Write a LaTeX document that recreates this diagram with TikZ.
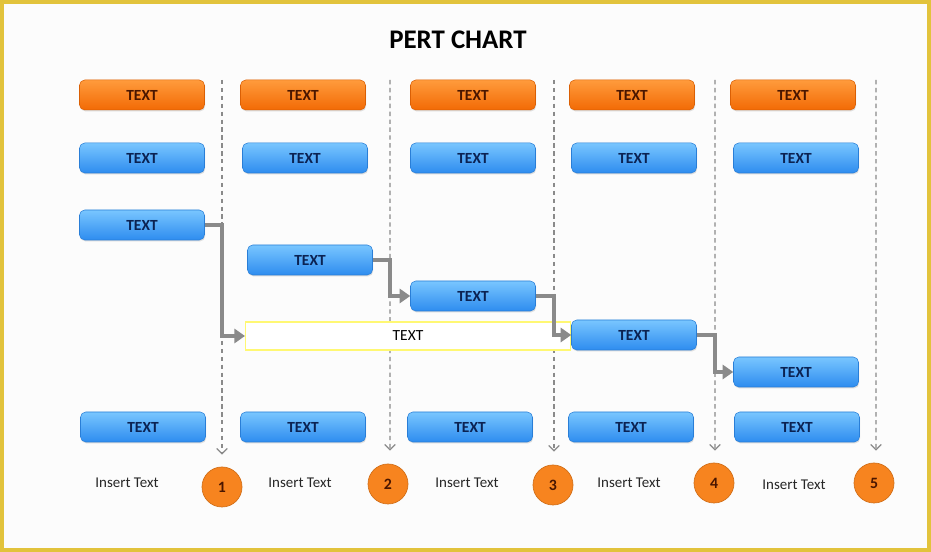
\documentclass[tikz,border=0pt]{standalone}
\usepackage{fontspec}
\setmainfont{Carlito}
\usetikzlibrary{arrows.meta,shadows}

\definecolor{frameyellow}{HTML}{E2C33C}
\definecolor{taskblueT}{HTML}{79C6FF}
\definecolor{taskblueB}{HTML}{2E8CEF}
\definecolor{taskorangeT}{HTML}{FF9B3C}
\definecolor{taskorangeB}{HTML}{F26A05}
\definecolor{milestoneorange}{HTML}{F7841F}
\definecolor{tasknavy}{HTML}{0B2252}
\definecolor{taskbrown}{HTML}{4A1600}
\definecolor{flowgray}{HTML}{8A8A8A}

\begin{document}
\begin{tikzpicture} [scale=1.00]
  % box and line styles
  \tikzstyle{task}=[rounded corners=3pt, minimum width=2.50cm, minimum height=0.60cm,
    inner sep=0pt, font=\bfseries\fontsize{8.8}{10}\selectfont,
    drop shadow={opacity=0.25, shadow xshift=0.4pt, shadow yshift=-0.8pt}]
  \tikzstyle{bluetask}=[task, top color=taskblueT, bottom color=taskblueB,
    draw=taskblueB!90!black, line width=0.3pt, text=tasknavy]
  \tikzstyle{orangetask}=[task, top color=taskorangeT, bottom color=taskorangeB,
    draw=taskorangeB!90!black, line width=0.3pt, text=taskbrown]
  \tikzstyle{milestone}=[circle, draw=milestoneorange!85!black, line width=0.4pt,
    fill=milestoneorange, minimum size=0.80cm, inner sep=0pt,
    font=\bfseries\small, text=taskbrown]
  \tikzstyle{note}=[font=\fontsize{8.5}{10}\selectfont, text=black!85]
  \tikzstyle{timeline}=[flowgray, line width=0.6pt, dash pattern=on 2.5pt off 2pt,
    -{Straight Barb[length=3pt,width=6pt,line width=0.7pt]}]
  \tikzstyle{flow}=[flowgray, line width=2.2pt, -{Triangle[length=6pt,width=8pt]}]

  % page and frame
  \useasboundingbox (0,0) rectangle (18.62,11.04);
  \fill[white!98!gray] (0,0) rectangle (18.62,11.04);
  \draw[frameyellow, line width=0.08cm] (0.04,0.04) rectangle (18.58,11.00);

  % title
  \node[font=\bfseries\fontsize{15.3}{18}\selectfont] (title) at (9.16, 10.24) {PERT CHART};

  % milestones
  \node[milestone] (M1) at (4.44, 1.30) {1};
  \node[milestone] (M2) at (7.76, 1.36) {2};
  \node[milestone] (M3) at (11.06, 1.34) {3};
  \node[milestone] (M4) at (14.28, 1.38) {4};
  \node[milestone] (M5) at (17.48, 1.38) {5};

  % time lines
  \coordinate (L1) at (4.44, 9.44);
  \coordinate (L2) at (7.80, 9.44);
  \coordinate (L3) at (11.08, 9.44);
  \coordinate (L4) at (14.30, 9.44);
  \coordinate (L5) at (17.52, 9.44);
  \draw[timeline] (L1) -- ([yshift=0.24cm]M1.north);
  \draw[timeline] (L2) -- ([yshift=0.26cm,xshift=0.04cm]M2.north);
  \draw[timeline] (L3) -- ([yshift=0.26cm,xshift=0.02cm]M3.north);
  \draw[timeline] (L4) -- ([yshift=0.24cm,xshift=0.02cm]M4.north);
  \draw[timeline] (L5) -- ([yshift=0.24cm,xshift=0.04cm]M5.north);

  % period labels
  \node[note] (P1) at (2.54, 1.38) {Insert Text};
  \node[note] (P2) at (6.00, 1.38) {Insert Text};
  \node[note] (P3) at (9.34, 1.38) {Insert Text};
  \node[note] (P4) at (12.58, 1.38) {Insert Text};
  \node[note] (P5) at (15.88, 1.34) {Insert Text};

  % top row
  \node[orangetask] (O1) at (2.84, 9.14) {TEXT};
  \node[orangetask] (O2) at (6.06, 9.14) {TEXT};
  \node[orangetask] (O3) at (9.46, 9.14) {TEXT};
  \node[orangetask] (O4) at (12.64, 9.14) {TEXT};
  \node[orangetask] (O5) at (15.86, 9.14) {TEXT};

  % second row
  \node[bluetask] (B1) at (2.84, 7.88) {TEXT};
  \node[bluetask] (B2) at (6.10, 7.88) {TEXT};
  \node[bluetask] (B3) at (9.46, 7.88) {TEXT};
  \node[bluetask] (B4) at (12.68, 7.88) {TEXT};
  \node[bluetask] (B5) at (15.92, 7.88) {TEXT};

  % critical path
  \node[bluetask] (C1) at (2.84, 6.54) {TEXT};
  \node[bluetask] (C2) at (6.20, 5.84) {TEXT};
  \node[bluetask] (C3) at (9.46, 5.12) {TEXT};
  \node[bluetask] (C4) at (12.68, 4.34) {TEXT};
  \node[bluetask] (C5) at (15.92, 3.60) {TEXT};
  \node[draw=yellow!55!white, line width=0.6pt, fill=white, minimum width=6.50cm,
    minimum height=0.56cm, inner sep=0pt, font=\fontsize{8.8}{10}\selectfont] (Y) at (8.16, 4.32) {TEXT};

  % bottom row
  \node[bluetask] (D1) at (2.86, 2.50) {TEXT};
  \node[bluetask] (D2) at (6.06, 2.50) {TEXT};
  \node[bluetask] (D3) at (9.40, 2.50) {TEXT};
  \node[bluetask] (D4) at (12.62, 2.50) {TEXT};
  \node[bluetask] (D5) at (15.94, 2.50) {TEXT};

  % flow connectors
  \draw[flow] (C1.east) -- ++(0.35,0) |- (Y.west);
  \draw[flow] (C2.east) -- ++(0.35,0) |- (C3.west);
  \draw[flow] (C3.east) -- ++(0.37,0) |- (C4.west);
  \draw[flow] (C4.east) -- ++(0.37,0) |- (C5.west);

\end{tikzpicture}
\end{document}
